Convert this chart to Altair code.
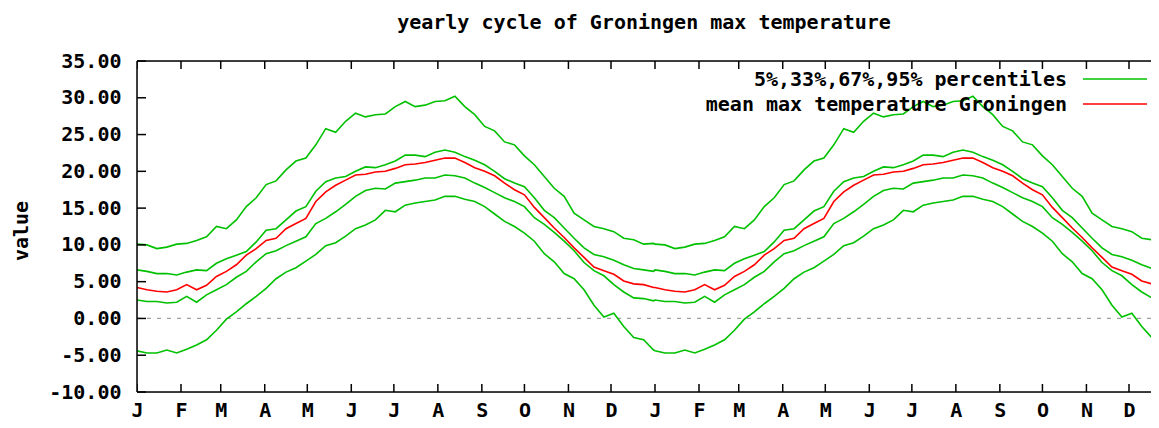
import altair as alt
import pandas as pd

# ---- data (one year, weekly; the chart shows it twice) ----
days = [0, 7, 14, 21, 28, 35, 42, 49, 56, 63, 70, 77, 84, 91, 98, 105, 112, 119, 126, 133,
        140, 147, 154, 161, 168, 175, 182, 189, 196, 203, 210, 217, 224, 231, 238, 245, 252,
        259, 266, 273, 280, 287, 294, 301, 308, 315, 322, 329, 336, 343, 350, 357, 364]

p95 = [10.1, 10.0, 9.5, 9.7, 10.1, 10.2, 10.6, 11.1, 12.5, 12.2, 13.4, 15.2, 16.4, 18.2,
       18.7, 20.2, 21.4, 21.8, 23.6, 25.8, 25.3, 26.8, 27.9, 27.4, 27.7, 27.8, 28.8,
       29.5, 28.8, 29.0, 29.5, 29.6, 30.2, 28.8, 27.7, 26.1, 25.5, 24.0, 23.6, 22.1,
       20.9, 19.3, 17.7, 16.6, 14.3, 13.4, 12.5, 12.2, 11.8, 10.9, 10.7, 10.1, 10.2]

p67 = [6.6, 6.4, 6.1, 6.1, 5.9, 6.3, 6.6, 6.5, 7.5, 8.1, 8.6, 9.1, 10.4, 12.0,
       12.2, 13.4, 14.6, 15.2, 17.3, 18.6, 19.1, 19.3, 20.0, 20.6, 20.5, 20.9, 21.4,
       22.2, 22.2, 22.0, 22.6, 22.9, 22.6, 22.0, 21.5, 20.9, 20.0, 19.0, 18.4, 17.9,
       16.4, 14.7, 13.7, 12.3, 10.9, 9.6, 8.7, 8.4, 7.9, 7.3, 6.8, 6.6, 6.4]

mean_t = [4.2, 3.9, 3.7, 3.6, 3.9, 4.6, 3.9, 4.5, 5.7, 6.4, 7.3, 8.6, 9.5, 10.6,
          10.9, 12.2, 12.9, 13.6, 15.9, 17.2, 18.1, 18.8, 19.5, 19.6, 19.9, 20.0, 20.4,
          20.9, 21.0, 21.2, 21.5, 21.8, 21.8, 21.2, 20.5, 20.0, 19.4, 18.4, 17.5, 16.8,
          15.1, 13.7, 12.3, 11.0, 9.6, 8.3, 7.0, 6.5, 6.0, 5.1, 4.7, 4.6, 4.2]

p33 = [2.5, 2.3, 2.3, 2.1, 2.2, 3.0, 2.2, 3.2, 3.9, 4.6, 5.6, 6.4, 7.7, 8.8,
       9.2, 9.9, 10.5, 11.1, 12.9, 13.6, 14.5, 15.5, 16.6, 17.4, 17.7, 17.6, 18.4,
       18.6, 18.8, 19.1, 19.1, 19.5, 19.4, 19.1, 18.4, 17.8, 17.1, 16.4, 15.9, 15.2,
       13.7, 12.8, 11.7, 10.5, 9.2, 7.6, 6.5, 5.8, 4.6, 3.6, 2.8, 2.7, 2.4]

p5 = [-4.4, -4.7, -4.7, -4.3, -4.7, -4.2, -3.6, -2.9, -1.6, -0.1, 0.9, 2.0, 3.0, 4.1,
      5.4, 6.3, 6.9, 7.8, 8.7, 9.9, 10.3, 11.2, 12.2, 12.7, 13.4, 14.7, 14.5,
      15.4, 15.7, 15.9, 16.1, 16.6, 16.6, 16.2, 15.9, 15.2, 14.2, 13.2, 12.5, 11.6,
      10.5, 8.8, 7.7, 6.1, 5.4, 3.9, 1.8, 0.2, 0.7, -1.1, -2.6, -2.9, -4.3]

month_labels = ["J", "F", "M", "A", "M", "J", "J", "A", "S", "O", "N", "D"]
month_starts = [0, 31, 59, 90, 120, 151, 181, 212, 243, 273, 304, 334]
year_len = 365
n_years = 2
x_max_shown = 714.5   # the reference image cuts the plot off in late December

y_ticks = [-10, -5, 0, 5, 10, 15, 20, 25, 30, 35]

legend_labels = ["5%,33%,67%,95% percentiles", "mean max temperature Groningen"]

title_text = "yearly cycle of Groningen max temperature"
y_title = "value"

# ---- build tables ----
green_rows = []
for name, vals in [("p5", p5), ("p33", p33), ("p67", p67), ("p95", p95)]:
    for yr in range(n_years):
        for d, v in zip(days, vals):
            green_rows.append({"day": d + yr * year_len, "value": v, "series": name})
green_df = pd.DataFrame(green_rows)

red_rows = []
for yr in range(n_years):
    for d, v in zip(days, mean_t):
        red_rows.append({"day": d + yr * year_len, "value": v})
red_df = pd.DataFrame(red_rows)

tick_days = [m + yr * year_len for yr in range(n_years) for m in month_starts]
tick_lbls = month_labels * n_years
tick_df = pd.DataFrame({"day": tick_days})
ytick_df = pd.DataFrame({"value": y_ticks})

GREEN = "#00c000"
RED = "#ff0000"
FONT = "DejaVu Sans Mono"
FS = 20
W, H = 1014, 331

label_expr_x = "[" + ",".join(f"'{l}'" for l in tick_lbls) + "][indexof([" + \
    ",".join(str(d) for d in tick_days) + "], datum.value)]"
label_expr_y = "(datum.value < 0 ? '-' : '') + format(abs(datum.value), '.2f')"

x_scale = alt.Scale(domain=[0, x_max_shown], nice=False, zero=False)
y_scale = alt.Scale(domain=[-10, 35], nice=False, zero=False)

x_enc = alt.X("day:Q", scale=x_scale,
              axis=alt.Axis(values=tick_days, labelExpr=label_expr_x, ticks=False, tickSize=0,
                            domain=False, grid=False, labelFont=FONT, labelFontSize=FS,
                            labelFontWeight="bold", labelColor="black", labelPadding=8,
                            labelFlush=False, labelOverlap=False, title=None))
y_enc = alt.Y("value:Q", scale=y_scale,
              axis=alt.Axis(values=y_ticks, labelExpr=label_expr_y, ticks=False, tickSize=0,
                            domain=False, grid=False, labelFont=FONT, labelFontSize=FS,
                            labelFontWeight="bold", labelColor="black", labelPadding=16,
                            labelFlush=False, labelOverlap=False,
                            title=y_title, titleFont=FONT, titleFontSize=FS,
                            titleFontWeight="bold", titleColor="black",
                            titleAngle=270, titleX=-116, titleY=H / 2 + 4,
                            titleAlign="center", titleBaseline="middle"))

zero_line = alt.Chart(pd.DataFrame({"value": [0]})).mark_rule(
    color="#a0a0a0", strokeDash=[4, 6], strokeWidth=1.2
).encode(y=y_enc)

green_lines = alt.Chart(green_df).mark_line(color=GREEN, strokeWidth=1.6, clip=True).encode(
    x=x_enc, y=y_enc, detail="series:N")
red_line = alt.Chart(red_df).mark_line(color=RED, strokeWidth=1.6, clip=True).encode(
    x=x_enc, y=y_enc)

bottom_ticks = alt.Chart(tick_df).mark_rule(color="black", strokeWidth=1.5, clip=True).encode(
    x=x_enc, y=alt.value(H), y2=alt.value(H - 8))
top_ticks = alt.Chart(tick_df).mark_rule(color="black", strokeWidth=1.5, clip=True).encode(
    x=x_enc, y=alt.value(0), y2=alt.value(8))
left_ticks = alt.Chart(ytick_df).mark_rule(color="black", strokeWidth=1.5).encode(
    y=y_enc, x=alt.value(0), x2=alt.value(9))

# frame: left, top, bottom (the right side is cut off in the reference)
frame_df = pd.DataFrame({"k": [0]})
frame_left = alt.Chart(frame_df).mark_rule(color="black", strokeWidth=1.5).encode(
    x=alt.value(0), y=alt.value(0), y2=alt.value(H))
frame_top = alt.Chart(frame_df).mark_rule(color="black", strokeWidth=1.5).encode(
    x=alt.value(0), x2=alt.value(W), y=alt.value(0))
frame_bottom = alt.Chart(frame_df).mark_rule(color="black", strokeWidth=1.5).encode(
    x=alt.value(0), x2=alt.value(W), y=alt.value(H))

legend_layers = []
for i, (lbl, col) in enumerate(zip(legend_labels, [GREEN, RED])):
    ldf = pd.DataFrame({"label": [lbl]})
    legend_layers.append(alt.Chart(ldf).mark_text(
        align="right", baseline="middle", font=FONT, fontSize=FS, fontWeight="bold",
        color="black").encode(text="label:N", x=alt.value(930), y=alt.value(19 + 25 * i)))
    legend_layers.append(alt.Chart(ldf).mark_rule(color=col, strokeWidth=1.6).encode(
        x=alt.value(946), x2=alt.value(1010), y=alt.value(18 + 25 * i)))

chart = alt.layer(
    zero_line, green_lines, red_line, bottom_ticks, top_ticks, left_ticks,
    frame_left, frame_top, frame_bottom, *legend_layers
).properties(
    width=W, height=H,
    padding={"left": 129, "top": 53, "right": 0, "bottom": 28},
    autosize=alt.AutoSizeParams(type="none"),
    title=alt.TitleParams(title_text, font=FONT, fontSize=FS, fontWeight="bold",
                          color="black", anchor="middle", offset=18),
).configure_view(stroke=None).configure(background="white")

chart.save("out.html", embed_options={"renderer": "svg", "actions": False})
